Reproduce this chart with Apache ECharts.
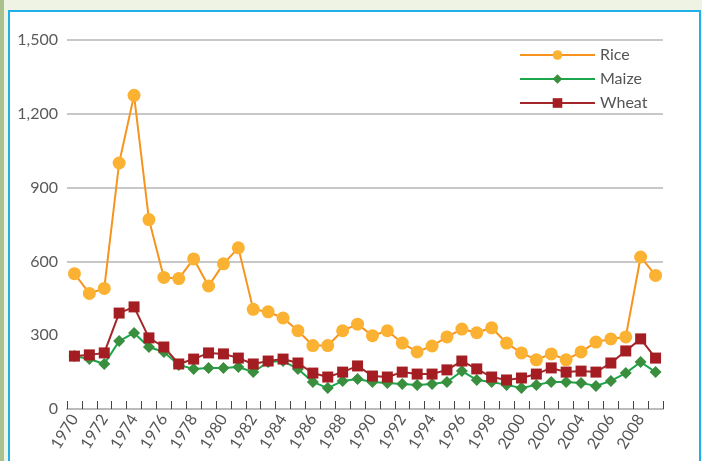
<!DOCTYPE html>
<html><head><meta charset="utf-8">
<script src="https://cdn.jsdelivr.net/npm/echarts@6/dist/echarts.min.js"></script>
<style>
html,body{margin:0;padding:0;width:702px;height:461px;overflow:hidden;background:#eff3e3;}
#strip{position:absolute;left:0;top:0;width:4px;height:461px;background:#a9c18e;}
#panel{position:absolute;left:8px;top:10px;width:689px;height:460px;border:2px solid #1fb0e6;background:#fff;}
#chart{position:absolute;left:0;top:0;width:702px;height:461px;}
</style></head>
<body>
<div id="strip"></div><div id="panel"></div>
<div id="chart"></div>
<script>
const years = [];
for (let y = 1970; y <= 2009; y++) years.push(String(y));
const rice = [550,470,490,1000,1275,770,535,530,610,500,590,655,405,395,370,318,258,258,318,345,298,318,268,232,256,293,325,310,330,268,228,200,224,200,232,272,285,293,618,543];
const maize = [215,203,183,276,309,252,232,179,163,167,167,171,150,191,195,163,110,85,114,122,110,106,102,98,102,110,154,118,110,98,85,98,110,110,106,94,114,146,191,150];
const wheat = [215,220,228,390,415,289,252,183,203,228,224,207,183,195,203,187,146,130,150,175,134,130,150,142,142,159,195,163,130,118,126,142,167,150,154,150,187,236,285,207];
const yTicks = [0,300,600,900,1200,1500];

const font = 'Lato, "Open Sans", sans-serif';
const chart = echarts.init(document.getElementById('chart'));
chart.setOption({
  animation: false,
  backgroundColor: 'transparent',
  grid: {left: 67, right: 39, top: 40, bottom: 52, containLabel: false},
  legend: {
    orient: 'vertical', left: 514, top: 42, itemWidth: 75, itemHeight: 12, itemGap: 8,
    textStyle: {fontFamily: font, fontSize: 16, color: '#555'},
    data: ['Rice','Maize','Wheat']
  },
  xAxis: {
    type: 'category', data: years, boundaryGap: true,
    axisLine: {lineStyle: {color: '#bbbbbb', width: 2}},
    axisTick: {show: true, inside: true, length: 8, interval: 0, lineStyle: {color: '#444', width: 1}},
    axisLabel: {interval: 1, rotate: 58, margin: 7, fontFamily: font, fontSize: 16, color: '#555'}
  },
  yAxis: {
    type: 'value', min: 0, max: 1500, interval: 300,
    axisLine: {show: false}, axisTick: {show: false},
    axisLabel: {margin: 9, fontFamily: font, fontSize: 16, color: '#5a5a5a',
      formatter: v => yTicks.includes(v) ? v.toLocaleString('en-US') : ''},
    splitLine: {lineStyle: {color: ['#c8c8c8','transparent','#c8c8c8','#c8c8c8','#c8c8c8','#c8c8c8'], width: 2}}
  },
  series: [
    {name: 'Rice', type: 'line', data: rice, symbol: 'circle', symbolSize: 13, showAllSymbol: true,
     lineStyle: {color: '#f7941d', width: 2}, itemStyle: {color: '#fbb232'}},
    {name: 'Maize', type: 'line', data: maize, symbol: 'diamond', symbolSize: 12, showAllSymbol: true,
     lineStyle: {color: '#1aa64a', width: 2}, itemStyle: {color: '#3a8f3e'}},
    {name: 'Wheat', type: 'line', data: wheat, symbol: 'rect', symbolSize: 11, showAllSymbol: true,
     lineStyle: {color: '#a3262a', width: 2}, itemStyle: {color: '#a31d22'}}
  ]
});
</script>
</body></html>
